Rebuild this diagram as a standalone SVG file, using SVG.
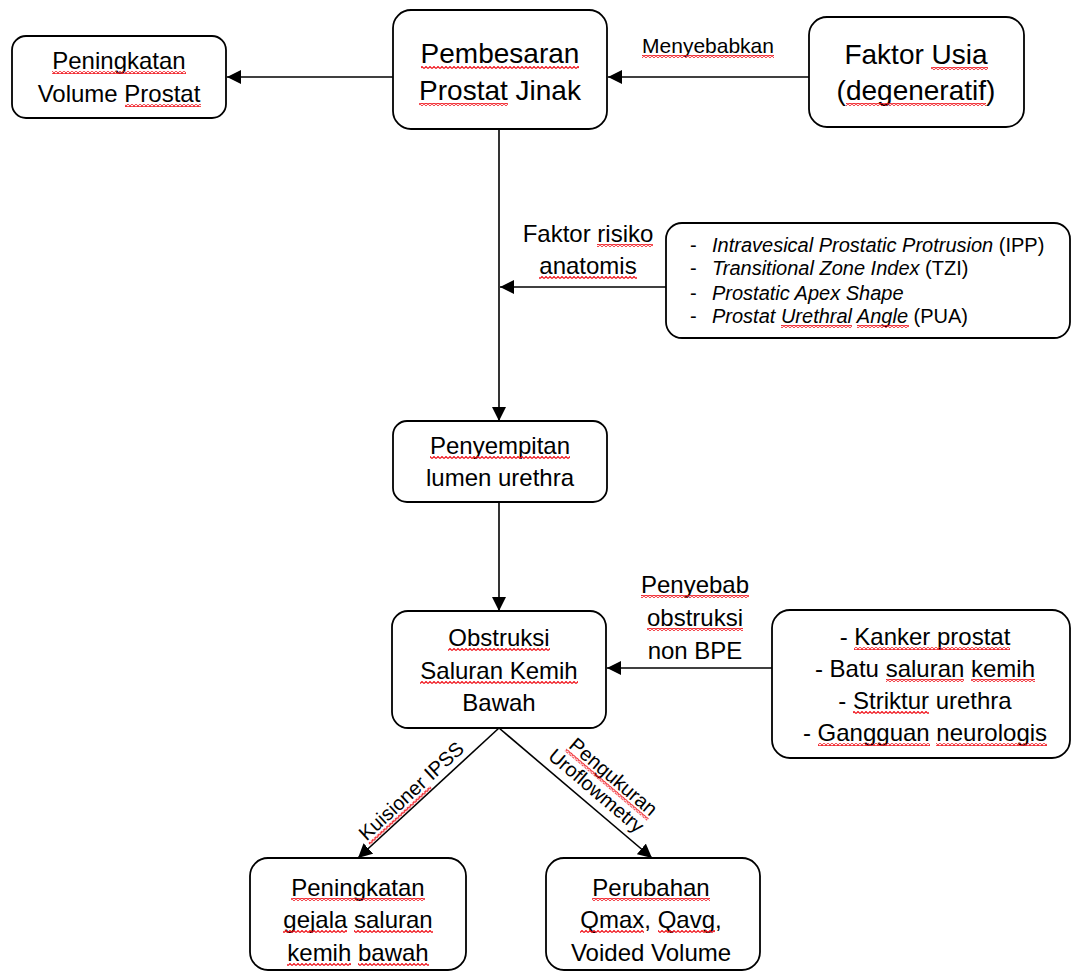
<svg xmlns="http://www.w3.org/2000/svg" width="1072" height="972" viewBox="0 0 1072 972">
<style>
.box{fill:#fff;stroke:#000;stroke-width:1.8}
.t{font-family:"Liberation Sans",Arial,sans-serif;fill:#000;text-anchor:middle}
.t24{font-size:24px}
.t28{font-size:28px}
.lbl{font-size:21px}
.lst{font-family:"Liberation Sans",Arial,sans-serif;font-size:20px;fill:#000}
.it{font-style:italic}
.con{stroke:#000;stroke-width:1.6;fill:none}
.w{fill:url(#wave)}
</style>
<defs>
<marker id="ah" markerUnits="userSpaceOnUse" markerWidth="16" markerHeight="14" refX="14" refY="7" orient="auto">
<path d="M0,0 L14,7 L0,14 Z" fill="#000"/>
</marker>
<pattern id="wave" patternUnits="userSpaceOnUse" width="4" height="3">
<path d="M0,2.5 L2,0.5 L4,2.5" fill="none" stroke="#f01018" stroke-width="1.15"/>
</pattern>
</defs>
<g id="connectors">
<line class="con" x1="393" y1="77" x2="227" y2="77" marker-end="url(#ah)"/>
<line class="con" x1="809" y1="77" x2="608" y2="77" marker-end="url(#ah)"/>
<line class="con" x1="499" y1="129" x2="499" y2="421" marker-end="url(#ah)"/>
<line class="con" x1="666" y1="287" x2="500" y2="287" marker-end="url(#ah)"/>
<line class="con" x1="499" y1="502" x2="499" y2="611" marker-end="url(#ah)"/>
<line class="con" x1="772" y1="668" x2="607" y2="668" marker-end="url(#ah)"/>
<line class="con" x1="499" y1="728" x2="358" y2="858" marker-end="url(#ah)"/>
<line class="con" x1="499" y1="728" x2="652" y2="858" marker-end="url(#ah)"/>
<text class="t lbl" x="708" y="53">Menyebabkan</text>
<rect class="w" x="642" y="55" width="132" height="3"/>
<text class="t t24" x="588" y="242">Faktor risiko</text>
<rect class="w" x="597" y="244" width="56" height="3"/>
<text class="t t24" x="588" y="274">anatomis</text>
<rect class="w" x="539" y="276" width="98" height="3"/>
<text class="t t24" x="695" y="593">Penyebab</text>
<rect class="w" x="641" y="595" width="108" height="3"/>
<text class="t t24" x="695" y="626">obstruksi</text>
<rect class="w" x="647" y="628" width="96" height="3"/>
<text class="t t24" x="695" y="659">non BPE</text>
<g transform="rotate(-42.7 416 796)">
<text class="t" font-size="20" x="416" y="796">Kuisioner IPSS</text>
<rect class="w" x="349" y="798" width="84" height="3"/>
</g>
<g transform="rotate(40.3 609 782)">
<text class="t" font-size="20" x="609" y="782">Pengukuran</text>
<rect class="w" x="555" y="784" width="108" height="3"/>
</g>
<text class="t" font-size="20" x="592" y="796" transform="rotate(40.3 592 796)">Uroflowmetry</text>
</g>
<g id="node-volume">
<rect class="box" x="12" y="36" width="214" height="82" rx="14"/>
<text class="t t24" x="119" y="69">Peningkatan</text>
<text class="t t24" x="119" y="102">Volume Prostat</text>
<rect class="w" x="52" y="71" width="134" height="3"/>
<rect class="w" x="125" y="104" width="76" height="3"/>
</g>
<g id="node-bph">
<rect class="box" x="393" y="10" width="214" height="119" rx="18"/>
<text class="t t28" x="500" y="63">Pembesaran</text>
<text class="t t28" x="500" y="100">Prostat Jinak</text>
<rect class="w" x="421" y="66" width="158" height="3"/>
<rect class="w" x="419" y="103" width="89" height="3"/>
</g>
<g id="node-usia">
<rect class="box" x="809" y="17" width="215" height="110" rx="18"/>
<text class="t t28" x="916" y="64">Faktor Usia</text>
<text class="t t28" x="916" y="100">(degeneratif)</text>
<rect class="w" x="931" y="67" width="57" height="3"/>
<rect class="w" x="846" y="103" width="140" height="3"/>
</g>
<g id="node-risiko">
<rect class="box" x="666" y="223" width="404" height="115" rx="16"/>
<text class="lst" x="690" y="252">-</text>
<text class="lst" x="712" y="252"><tspan class="it">Intravesical Prostatic Protrusion</tspan> (IPP)</text>
<text class="lst" x="690" y="275">-</text>
<text class="lst" x="712" y="275"><tspan class="it">Transitional Zone Index</tspan> (TZI)</text>
<text class="lst" x="690" y="300">-</text>
<text class="lst" x="712" y="300"><tspan class="it">Prostatic Apex Shape</tspan></text>
<text class="lst" x="690" y="323">-</text>
<text class="lst" x="712" y="323"><tspan class="it">Prostat Urethral Angle</tspan> (PUA)</text>
<rect class="w" x="781" y="325" width="71" height="3"/>
<rect class="w" x="857" y="325" width="52" height="3"/>
</g>
<g id="node-penyempitan">
<rect class="box" x="393" y="421" width="214" height="81" rx="14"/>
<text class="t t24" x="500" y="454">Penyempitan</text>
<text class="t t24" x="500" y="486">lumen urethra</text>
<rect class="w" x="430" y="456" width="140" height="3"/>
</g>
<g id="node-obstruksi">
<rect class="box" x="392" y="611" width="214" height="117" rx="16"/>
<text class="t t24" x="499" y="646">Obstruksi</text>
<text class="t t24" x="499" y="679">Saluran Kemih</text>
<text class="t t24" x="499" y="711">Bawah</text>
<rect class="w" x="448" y="648" width="102" height="3"/>
<rect class="w" x="420" y="681" width="158" height="3"/>
</g>
<g id="node-nonbpe">
<rect class="box" x="772" y="610" width="298" height="148" rx="18"/>
<text class="t t24" x="925" y="645">- Kanker prostat</text>
<text class="t t24" x="925" y="677">- Batu saluran kemih</text>
<text class="t t24" x="925" y="709">- Striktur urethra</text>
<text class="t t24" x="925" y="741">- Gangguan neurologis</text>
<rect class="w" x="854" y="647" width="156" height="3"/>
<rect class="w" x="886" y="679" width="78" height="3"/>
<rect class="w" x="971" y="679" width="64" height="3"/>
<rect class="w" x="853" y="711" width="76" height="3"/>
<rect class="w" x="818" y="743" width="112" height="3"/>
<rect class="w" x="936" y="743" width="111" height="3"/>
</g>
<g id="node-gejala">
<rect class="box" x="250" y="858" width="216" height="112" rx="18"/>
<text class="t t24" x="358" y="896">Peningkatan</text>
<text class="t t24" x="358" y="928">gejala saluran</text>
<text class="t t24" x="358" y="961">kemih bawah</text>
<rect class="w" x="291" y="898" width="134" height="3"/>
<rect class="w" x="283" y="930" width="64" height="3"/>
<rect class="w" x="354" y="930" width="79" height="3"/>
<rect class="w" x="287" y="963" width="64" height="3"/>
<rect class="w" x="358" y="963" width="71" height="3"/>
</g>
<g id="node-uroflow">
<rect class="box" x="546" y="858" width="214" height="112" rx="18"/>
<text class="t t24" x="651" y="896">Perubahan</text>
<text class="t t24" x="651" y="928">Qmax, Qavg,</text>
<text class="t t24" x="651" y="961">Voided Volume</text>
<rect class="w" x="592" y="898" width="118" height="3"/>
<rect class="w" x="580" y="930" width="64" height="3"/>
<rect class="w" x="658" y="930" width="57" height="3"/>
</g>
</svg>
